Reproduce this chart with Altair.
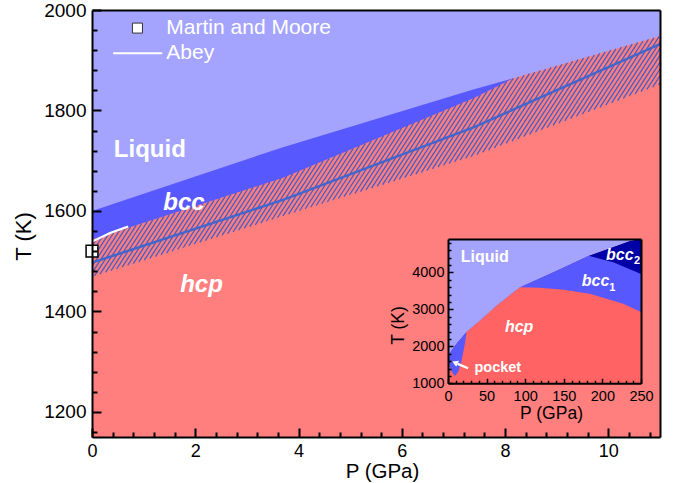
import altair as alt
import numpy as np
import pandas as pd

# ---------------- main panel data (P in GPa, T in K) ----------------
bcc_top_P = [0.0, 3.7, 7.4, 8.16]
bcc_top_T = [1600, 1727, 1842, 1864]
hatch_top_P = [0.0, 3.7, 7.4, 8.16, 11.0]
hatch_top_T = [1543, 1666, 1825, 1864, 1948]
hatch_bot_P = [0.0, 3.7, 7.4, 11.0]
hatch_bot_T = [1469, 1590, 1710, 1852]
center_P = [0.0, 3.7, 7.4, 11.0]
center_T = [1497, 1622, 1767, 1932]
abey_P = [0.0, 0.35, 0.7]
abey_T = [1539, 1556, 1569]
mm_P = [0.0]
mm_T = [1520]
x_major = [0, 2, 4, 6, 8, 10]
y_major = [1200, 1400, 1600, 1800, 2000]
x_minor = [round(0.4 * i, 2) for i in range(28) if i % 5]
y_minor = [1160 + 40 * i for i in range(22) if (1160 + 40 * i) % 200]

# ---------------- inset data ----------------
melt_P = [0, 11, 24, 41.5, 63, 93, 141, 182, 236, 250]
melt_T = [1760, 2075, 2390, 2700, 3105, 3597, 4046, 4450, 4852, 4900]
b12_P = [214, 250]
b12_T = [4269, 3957]
hcp_P = [0, 1.3, 3.5, 9, 13.3, 17.7, 22, 24, 41.5, 63, 93, 119, 150, 183.5, 227, 250]
hcp_T = [1560, 1540, 1360, 1200, 1312, 1626, 2075, 2390, 2700, 3105, 3597, 3581, 3530, 3419, 3150, 2925]
ix_major = [0, 50, 100, 150, 200, 250]
ix_minor = [v for v in range(0, 251, 10) if v % 50]
iy_major = [1000, 2000, 3000, 4000]
iy_minor = [v for v in range(1200, 4900, 200) if v % 1000]

# ---------------- style / layout ----------------
FONT = "Liberation Sans"
LIQ, BCC, BCC2 = "#a4a4ff", "#5858ff", "#0000a6"
HCP, HCP_IN = "#ff7f7f", "#ff6363"
HATCH, CENTER = "#4a5cc6", "#4466cc"
W, H = 568, 427
IX0, IX1, IYB, IYT = 356, 549, 373.3, 229

# hatch stripes clipped between the band edges
PX_P, PX_T = W / 11.0, H / 850.0
k = PX_T / (np.tan(np.deg2rad(57)) * PX_P)
step = 4.4 / PX_P


def bound(p, bp, bt):
    bp = np.asarray(bp, float)
    bt = np.asarray(bt, float)
    if p < bp[0]:
        return bt[0] + (bt[1] - bt[0]) / (bp[1] - bp[0]) * (p - bp[0])
    if p > bp[-1]:
        return bt[-1] + (bt[-1] - bt[-2]) / (bp[-1] - bp[-2]) * (p - bp[-1])
    return float(np.interp(p, bp, bt))


def meet(c, bp, bt):
    lo, hi = 900.0, 2400.0
    for _ in range(60):
        mid = 0.5 * (lo + hi)
        if bound(c + k * (mid - 1150), bp, bt) > mid:
            lo = mid
        else:
            hi = mid
    return 0.5 * (lo + hi)


rows = []
for c in np.arange(-3.0, 11.0, step):
    t1 = meet(c, hatch_bot_P, hatch_bot_T)
    t2 = meet(c, hatch_top_P, hatch_top_T)
    p1, p2 = c + k * (t1 - 1150), c + k * (t2 - 1150)
    if p2 < 0 or p1 > 11:
        continue
    rows.append(dict(p1=p1, t1=t1, p2=p2, t2=t2))
df_hatch = pd.DataFrame(rows)

xs = alt.Scale(domain=[0, 11], nice=False, zero=False)
ys = alt.Scale(domain=[1150, 2000], nice=False, zero=False)
isx = alt.Scale(domain=[0, 250], range=[IX0, IX1], nice=False, zero=False)
isy = alt.Scale(domain=[1000, 4900], range=[IYB, IYT], nice=False, zero=False)


def lab_axis(orient, values, fs, pad, title, tfs, tpad, offset=0, **kw):
    return alt.Axis(orient=orient, values=values, offset=offset, ticks=False, domain=False,
                    grid=False, labelFontSize=fs, labelPadding=pad, labelFlush=False,
                    format="d", title=title, titleFontSize=tfs, titlePadding=tpad,
                    zindex=1, **kw)


def tick_axis(orient, values, size, width, offset, domain, dwidth=2):
    return alt.Axis(orient=orient, values=values, offset=offset, ticks=True, tickSize=size,
                    tickWidth=width, labels=False, domain=domain, domainWidth=dwidth,
                    grid=False, title=None, zindex=2)


def frame_axis(orient, offset, dwidth=2):
    return alt.Axis(orient=orient, offset=offset, ticks=False, labels=False, domain=True,
                    domainWidth=dwidth, grid=False, title=None, zindex=2)


def XY(xf, yf, xax=None, yax=None, sx=xs, sy=ys):
    kx = dict(scale=sx, axis=xax)
    ky = dict(scale=sy, axis=yax)
    return alt.X(xf, type="quantitative", **kx), alt.Y(yf, type="quantitative", **ky)


# ---------------- main panel ----------------
x, y = XY("P", "T", lab_axis("bottom", x_major, 18, 5, "P (GPa)", 20.5, 1, titleX=290),
          lab_axis("left", y_major, 19, 6, "T (K)", 22, 8, titleY=226))
bcc_ch = alt.Chart(pd.DataFrame({"P": bcc_top_P, "T": bcc_top_T})).mark_area(color=BCC).encode(
    *XY("P", "T", tick_axis("top", x_major, 9, 2, -H, True), tick_axis("right", y_major, 9, 2, -W, True)),
    y2=alt.datum(1150))
red_ch = alt.Chart(pd.DataFrame({"P": hatch_top_P, "T": hatch_top_T})).mark_area(color=HCP).encode(
    x, y, y2=alt.datum(1150))
hatch_ch = alt.Chart(df_hatch).mark_rule(color=HATCH, strokeWidth=1.3, clip=True).encode(
    *XY("p1", "t1", frame_axis("top", 0), frame_axis("right", 0)), x2="p2", y2="t2")
center_ch = alt.Chart(pd.DataFrame({"P": center_P, "T": center_T})).mark_line(
    color=CENTER, strokeWidth=2.5).encode(
    *XY("P", "T", tick_axis("top", x_minor, 5, 2, -H, False), tick_axis("right", y_minor, 5, 2, -W, False)))
abey_ch = alt.Chart(pd.DataFrame({"P": abey_P, "T": abey_T})).mark_line(
    color="white", strokeWidth=2).encode(*XY("P", "T"))
mm_ch = alt.Chart(pd.DataFrame({"P": mm_P, "T": mm_T})).mark_point(
    shape="square", filled=True, fill="white", stroke="black", strokeWidth=1.5, size=140,
    opacity=1).encode(*XY("P", "T"))

leg = pd.DataFrame({"P": [0.88, 0.88], "T": [1964, 1914], "label": ["Martin and Moore", "Abey"]})
leg_sq = alt.Chart(leg.iloc[:1]).mark_point(
    shape="square", filled=True, fill="white", stroke="#333333", strokeWidth=1, size=100,
    opacity=1).encode(*XY("P", "T"))
leg_line = alt.Chart(leg.iloc[1:].assign(P=0.41, P2=1.36)).mark_rule(color="white", strokeWidth=2).encode(
    *XY("P", "T"), x2="P2")
leg_txt = alt.Chart(leg.assign(P=1.44)).mark_text(
    align="left", baseline="middle", font=FONT, fontSize=21, color="white").encode(
    *XY("P", "T"), text="label")

txt_main = pd.DataFrame({"P": [1.12, 1.78, 2.12], "T": [1708, 1602, 1439],
                         "label": ["Liquid", "bcc", "hcp"]})
lab_liq = alt.Chart(txt_main.iloc[:1]).mark_text(
    align="center", baseline="alphabetic", font=FONT, fontSize=24, fontWeight="bold",
    color="white").encode(*XY("P", "T"), text="label")
lab_it = alt.Chart(txt_main.iloc[1:]).mark_text(
    align="center", baseline="alphabetic", font=FONT, fontSize=24, fontWeight="bold",
    fontStyle="italic", color="white").encode(*XY("P", "T"), text="label")

main = alt.layer(bcc_ch, red_ch, hatch_ch, center_ch, abey_ch, mm_ch, leg_sq, leg_line,
                 leg_txt, lab_liq, lab_it).resolve_axis(x="independent", y="independent")

# ---------------- inset ----------------
df_melt = pd.DataFrame({"P": melt_P, "T": melt_T})
b1_P = [p for p in melt_P if p <= 182] + b12_P
b1_T = [t for p, t in zip(melt_P, melt_T) if p <= 182] + b12_T
I = dict(sx=isx, sy=isy)
i_navy = alt.Chart(df_melt).mark_area(color=BCC2).encode(
    *XY("P", "T", lab_axis("bottom", ix_major, 14.5, 6, "P (GPa)", 17.5, 2, offset=IYB - H, titleX=459),
        lab_axis("left", iy_major, 14.5, 4, "T (K)", 17.5, 4, offset=-IX0, titleY=315), **I),
    y2=alt.datum(1000))
i_blue = alt.Chart(pd.DataFrame({"P": b1_P, "T": b1_T})).mark_area(color=BCC).encode(
    *XY("P", "T", tick_axis("top", ix_major, 5, 1.5, -IYB, True),
        tick_axis("right", iy_major, 5, 1.5, IX0 - W, True), **I),
    y2=alt.datum(1000))
i_red = alt.Chart(pd.DataFrame({"P": hcp_P, "T": hcp_T})).mark_area(color=HCP_IN).encode(
    *XY("P", "T", tick_axis("top", ix_minor, 3, 1.5, -IYB, False),
        tick_axis("right", iy_minor, 3, 1.5, IX0 - W, False), **I),
    y2=alt.datum(1000))
i_liq = alt.Chart(df_melt).mark_area(color=LIQ).encode(
    *XY("P", "T", frame_axis("top", -IYT), frame_axis("right", IX1 - W), **I),
    y2=alt.datum(4900))

itxt = pd.DataFrame({"P": [47.5, 64.5], "T": [4269, 1312], "label": ["Liquid", "pocket"]})
i_lab1 = alt.Chart(itxt.iloc[:1]).mark_text(
    align="center", baseline="alphabetic", font=FONT, fontSize=16, fontWeight="bold",
    color="white").encode(*XY("P", "T", **I), text="label")
i_lab2 = alt.Chart(itxt.iloc[1:]).mark_text(
    align="center", baseline="alphabetic", font=FONT, fontSize=14.5, fontWeight="bold",
    color="white").encode(*XY("P", "T", **I), text="label")
itxt_it = pd.DataFrame({"P": [92.1, 191.2, 222.5], "T": [2387, 3642, 4333],
                        "label": ["hcp", "bcc", "bcc"]})
i_lab3 = alt.Chart(itxt_it).mark_text(
    align="center", baseline="alphabetic", font=FONT, fontSize=16, fontWeight="bold",
    fontStyle="italic", color="white").encode(*XY("P", "T", **I), text="label")
isub = pd.DataFrame({"P": [212.8, 245.0], "T": [3508, 4226], "label": ["1", "2"]})
i_sub = alt.Chart(isub).mark_text(
    align="center", baseline="alphabetic", font=FONT, fontSize=11, fontWeight="bold",
    color="white").encode(*XY("P", "T", **I), text="label")
arrow = pd.DataFrame({"P": [26.0, 12.5], "T": [1405, 1525]})
i_arrow = alt.Chart(arrow).mark_line(color="white", strokeWidth=2.2).encode(*XY("P", "T", **I))
i_head = alt.Chart(pd.DataFrame({"P": [9.0], "T": [1560]})).mark_point(
    shape="triangle-up", filled=True, color="white", size=45, angle=294, opacity=1).encode(
    *XY("P", "T", **I))

inset = alt.layer(i_navy, i_blue, i_red, i_liq, i_lab1, i_lab2, i_lab3, i_sub, i_arrow,
                  i_head).resolve_axis(x="independent", y="independent")

chart = alt.layer(main, inset).resolve_scale(x="independent", y="independent").properties(
    width=W, height=H,
    padding={"left": 92, "top": 10, "right": 678 - 92 - W, "bottom": 483 - 10 - H},
    autosize=alt.AutoSizeParams(type="none"),
).configure_axis(
    labelFont=FONT, titleFont=FONT, labelColor="black", titleColor="black",
    domainColor="black", tickColor="black", titleFontWeight="normal", grid=False,
).configure_view(fill=LIQ, stroke="transparent")

chart.save("out.html", embed_options={"renderer": "svg", "actions": False})
